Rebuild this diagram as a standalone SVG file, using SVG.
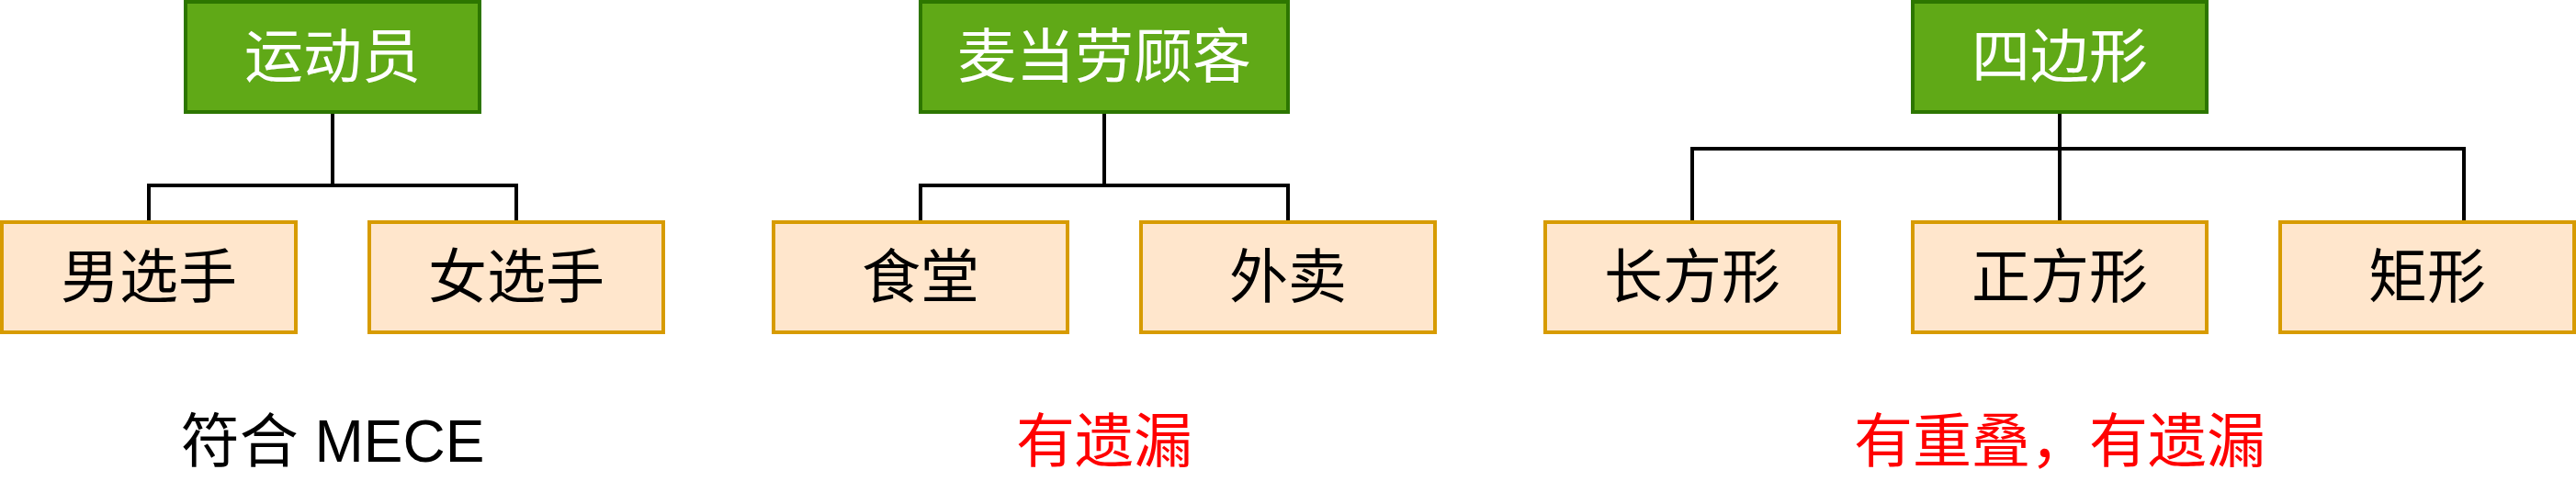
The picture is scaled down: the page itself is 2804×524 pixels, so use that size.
<svg xmlns="http://www.w3.org/2000/svg" width="2804" height="524" viewBox="0 0 2804 524">
<style>
.top{fill:#60a917;stroke:#2d7600;stroke-width:4}
.child{fill:#ffe6cc;stroke:#d79b00;stroke-width:4}
.t{font-family:"Liberation Sans","Noto Sans CJK SC",sans-serif;font-size:64px;text-anchor:middle}
.w{fill:#ffffff}
.k{fill:#000000}
.r{fill:#ff0000}
.conn path{fill:none;stroke:#000000;stroke-width:4;stroke-linejoin:miter}
</style>
<rect width="2804" height="524" fill="#ffffff"/>
<g class="conn" id="connectors">
<path d="M362 122V202H162V242"/>
<path d="M362 202H562V242"/>
<path d="M1202 122V202H1002V242"/>
<path d="M1202 202H1402V242"/>
<path d="M2242 122V162H1842V242"/>
<path d="M2242 122V242"/>
<path d="M2242 162H2682V242H2642"/>
</g>
<g id="n1"><rect class="top" x="202" y="2" width="320" height="120"/><text class="t w" x="362" y="84">运动员</text></g>
<g id="n2"><rect class="child" x="2" y="242" width="320" height="120"/><text class="t k" x="162" y="324">男选手</text></g>
<g id="n3"><rect class="child" x="402" y="242" width="320" height="120"/><text class="t k" x="562" y="324">女选手</text></g>
<g id="n4"><rect class="top" x="1002" y="2" width="400" height="120"/><text class="t w" x="1202" y="84">麦当劳顾客</text></g>
<g id="n5"><rect class="child" x="842" y="242" width="320" height="120"/><text class="t k" x="1002" y="324">食堂</text></g>
<g id="n6"><rect class="child" x="1242" y="242" width="320" height="120"/><text class="t k" x="1402" y="324">外卖</text></g>
<g id="n7"><rect class="top" x="2082" y="2" width="320" height="120"/><text class="t w" x="2242" y="84">四边形</text></g>
<g id="n8"><rect class="child" x="1682" y="242" width="320" height="120"/><text class="t k" x="1842" y="324">长方形</text></g>
<g id="n9"><rect class="child" x="2082" y="242" width="320" height="120"/><text class="t k" x="2242" y="324">正方形</text></g>
<g id="n10"><rect class="child" x="2482" y="242" width="320" height="120"/><text class="t k" x="2642" y="324">矩形</text></g>
<g id="labels">
<text class="t k" x="362" y="503">符合 MECE</text>
<text class="t r" x="1202" y="503">有遗漏</text>
<text class="t r" x="2242" y="503">有重叠，有遗漏</text>
</g>
</svg>
